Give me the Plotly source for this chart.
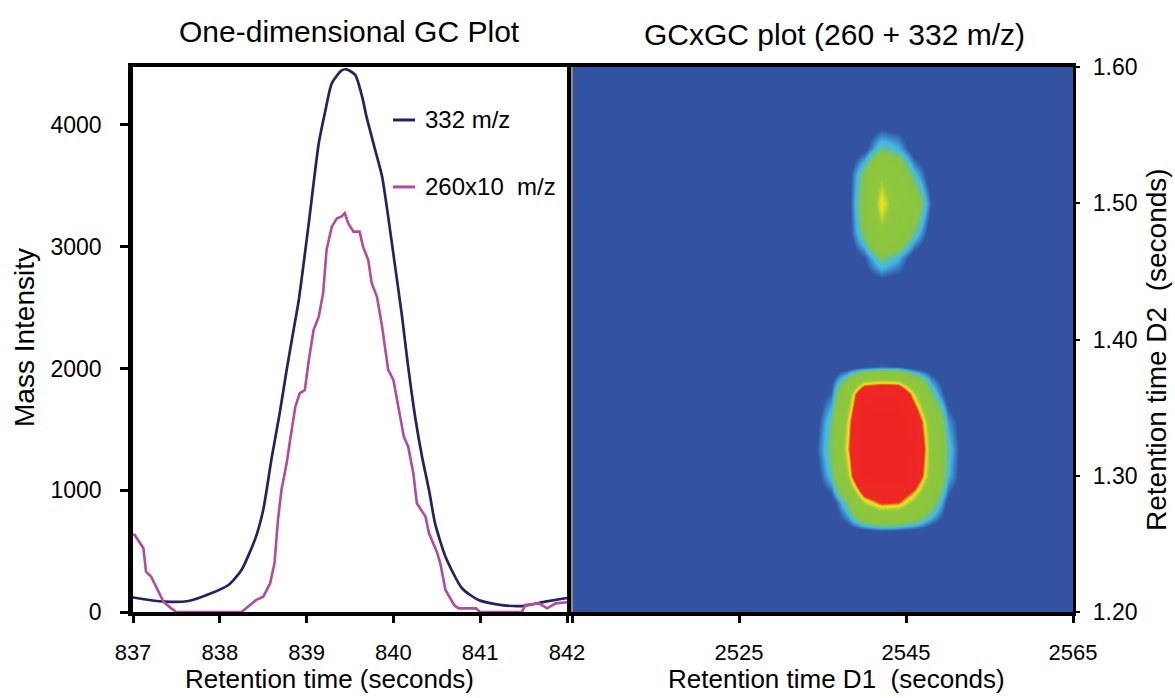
import plotly.graph_objects as go

# ---- one-dimensional GC traces (retention time in s, mass intensity) ----
mz332_time = [837.00, 837.02, 837.37, 837.64, 837.90, 838.10, 838.25, 838.41, 838.50, 838.60,
              838.69, 838.77, 838.85, 838.91, 839.02, 839.14, 839.21, 839.29, 839.40, 839.46,
              839.56, 839.64, 839.69, 839.79, 839.87, 839.94, 840.02, 840.10, 840.16, 840.25,
              840.33, 840.41, 840.48, 840.60, 840.79, 840.98, 841.25, 841.48, 841.75, 842.00]
mz332_intensity = [120, 117, 85, 90, 153, 222, 345, 605, 838, 1276,
                   1632, 1988, 2316, 2563, 3165, 3850, 4096, 4342, 4446, 4457,
                   4411, 4232, 4068, 3795, 3575, 3247, 2836, 2425, 2070, 1604,
                   1276, 1002, 728, 454, 195, 99, 57, 49, 85, 115]

mz260_time = [837.00, 837.02, 837.12, 837.15, 837.21, 837.35, 837.44, 837.50,
              838.25, 838.29, 838.42, 838.50, 838.58, 838.63, 838.67, 838.71, 838.77, 838.81,
              838.87, 838.92, 838.98, 839.02, 839.08, 839.14, 839.19, 839.23, 839.29, 839.35,
              839.40, 839.44, 839.48, 839.54, 839.61, 839.65, 839.71, 839.75, 839.81, 839.87,
              839.94, 840.00, 840.06, 840.12, 840.17, 840.23, 840.27, 840.37, 840.41, 840.50,
              840.54, 840.60, 840.70, 840.75, 840.95, 841.00, 841.48, 841.52, 841.68, 841.77,
              841.87, 842.00]
mz260x10_intensity = [640, 632, 523, 331, 290, 85, 30, 0,
                      0, 22, 99, 126, 236, 400, 756, 1002, 1221, 1413,
                      1686, 1796, 1823, 2043, 2316, 2426, 2618, 2973, 3165, 3234,
                      3247, 3275, 3192, 3124, 3124, 3000, 2891, 2700, 2590, 2343,
                      1988, 1906, 1686, 1440, 1358, 1139, 893, 783, 646, 495,
                      400, 181, 57, 30, 30, 0, 0, 57, 71, 30,
                      71, 80]

gc_ticks = [837, 838, 839, 840, 841, 842]
intensity_ticks = [0, 1000, 2000, 3000, 4000]

# ---- GCxGC response (relative, 1 = detector saturation) ----
d1_time = [2532, 2534, 2536, 2538, 2540, 2542, 2544, 2546, 2548, 2550, 2552, 2554]
d2_time = [1.24, 1.26, 1.28, 1.30, 1.32, 1.34, 1.36, 1.38, 1.40, 1.42,
           1.44, 1.46, 1.48, 1.50, 1.52, 1.54, 1.56, 1.58]
response = [
    [0, 0, 0, 0, 0, 0, 0, 0, 0, 0, 0, 0],
    [0, 0, 0, 0, 0.02, 0.04, 0.03, 0.02, 0, 0, 0, 0],
    [0, 0, 0, 0.15, 0.48, 0.62, 0.60, 0.42, 0.20, 0.02, 0, 0],
    [0, 0, 0.12, 0.45, 1.0, 1.0, 1.0, 0.80, 0.38, 0.10, 0, 0],
    [0, 0.02, 0.16, 0.55, 1.0, 1.0, 1.0, 0.90, 0.40, 0.12, 0, 0],
    [0, 0, 0.14, 0.50, 1.0, 1.0, 1.0, 0.80, 0.35, 0.08, 0, 0],
    [0, 0, 0.05, 0.35, 0.85, 0.90, 0.88, 0.50, 0.15, 0, 0, 0],
    [0, 0, 0, 0, 0.02, 0.05, 0.04, 0, 0, 0, 0, 0],
    [0, 0, 0, 0, 0, 0, 0, 0, 0, 0, 0, 0],
    [0, 0, 0, 0, 0, 0, 0, 0, 0, 0, 0, 0],
    [0, 0, 0, 0, 0, 0, 0, 0, 0, 0, 0, 0],
    [0, 0, 0, 0, 0.04, 0.16, 0.10, 0, 0, 0, 0, 0],
    [0, 0, 0, 0, 0.18, 0.44, 0.32, 0.15, 0, 0, 0, 0],
    [0, 0, 0, 0, 0.22, 0.56, 0.36, 0.25, 0.04, 0, 0, 0],
    [0, 0, 0, 0, 0.18, 0.44, 0.30, 0.12, 0, 0, 0, 0],
    [0, 0, 0, 0, 0.02, 0.14, 0.10, 0, 0, 0, 0, 0],
    [0, 0, 0, 0, 0, 0, 0, 0, 0, 0, 0, 0],
    [0, 0, 0, 0, 0, 0, 0, 0, 0, 0, 0, 0],
]
d1_ticks = [2505, 2525, 2545, 2565]
d1_ticktext = ["", "2525", "2545", "2565"]
d2_ticks = [1.20, 1.30, 1.40, 1.50, 1.60]
d2_ticktext = ["1.20", "1.30", "1.40", "1.50", "1.60"]

NAVY = "#262262"
MAGENTA = "#B44A9E"
BG_BLUE = "#3352A2"
FONT = "Liberation Sans, Arial, sans-serif"

W, H = 1175, 698
L, R, T, B = 133, 102, 67, 86
PW, PH = W - L - R, H - T - B


def fx(px):
    return (px - L) / PW


def fy(py):
    return (H - B - py) / PH


jet_like = [
    [0.00, BG_BLUE],
    [0.04, BG_BLUE],
    [0.10, "#44B8EA"],
    [0.16, "#7CC65A"],
    [0.20, "#8CC63F"],
    [0.45, "#8FC73E"],
    [0.55, "#F2E81C"],
    [0.61, "#EE2A24"],
    [1.00, "#EE2424"],
]

fig = go.Figure()

fig.add_trace(go.Heatmap(
    x=d1_time, y=d2_time, z=response,
    xaxis="x2", yaxis="y2",
    zmin=0, zmax=1, zsmooth="best",
    colorscale=jet_like, showscale=False, hoverinfo="skip",
))

fig.add_trace(go.Scatter(
    x=mz332_time, y=mz332_intensity, mode="lines",
    line=dict(color=NAVY, width=2.7, shape="spline", smoothing=0.6), name="332 m/z",
    xaxis="x", yaxis="y", showlegend=False,
))
fig.add_trace(go.Scatter(
    x=mz260_time, y=mz260x10_intensity, mode="lines",
    line=dict(color=MAGENTA, width=2.6), name="260x10  m/z",
    xaxis="x", yaxis="y", showlegend=False,
))

tickfont = dict(family=FONT, size=22, color="black")
split_left = fx(567)
split_right = fx(572)

fig.update_layout(
    width=W, height=H,
    margin=dict(l=L, r=R, t=T, b=B),
    paper_bgcolor="white", plot_bgcolor="white",
    font=dict(family=FONT, color="black"),
    xaxis=dict(
        domain=[0, split_left], range=[837, 842], anchor="y",
        tickvals=gc_ticks, ticks="outside", ticklen=7, tickwidth=2.5, tickcolor="black",
        showline=True, linewidth=4, linecolor="black", mirror=True,
        showgrid=False, zeroline=False, tickfont=tickfont, ticklabelstandoff=11,
    ),
    yaxis=dict(
        domain=[0, 1], range=[0, 4476], anchor="x",
        tickvals=intensity_ticks, ticks="outside", ticklen=8, tickwidth=3, tickcolor="black",
        showline=True, linewidth=4.5, linecolor="black", mirror=True,
        showgrid=False, zeroline=False, tickfont=dict(family=FONT, size=23, color="black"),
        ticklabelstandoff=14,
    ),
    xaxis2=dict(
        domain=[split_right, 1], range=[2505, 2565], anchor="y2",
        tickvals=d1_ticks, ticktext=d1_ticktext,
        ticks="outside", ticklen=7, tickwidth=2.5, tickcolor="black",
        showline=True, linewidth=3.5, linecolor="black", mirror=True,
        showgrid=False, zeroline=False, tickfont=tickfont, ticklabelstandoff=11,
    ),
    yaxis2=dict(
        domain=[0, 1], range=[1.2, 1.6], anchor="x2", side="right",
        tickvals=d2_ticks, ticktext=d2_ticktext,
        ticks="outside", ticklen=4, tickwidth=2, tickcolor="black",
        showline=True, linewidth=3.3, linecolor="black",
        showgrid=False, zeroline=False, tickfont=dict(family=FONT, size=23, color="black"),
        ticklabelstandoff=8,
    ),
    shapes=[
        # blue field behind the GCxGC map
        dict(type="rect", xref="x2 domain", yref="y2 domain", x0=0, x1=1, y0=0, y1=1,
             fillcolor=BG_BLUE, line=dict(width=0), layer="below"),
        # thin grey divider on the left edge of the map
        dict(type="line", xref="x2 domain", yref="y2 domain", x0=0, x1=0, y0=0, y1=1,
             line=dict(color="#8A8A8A", width=2)),
        # legend line samples
        dict(type="line", xref="x", yref="y", x0=839.995, x1=840.25, y0=4041, y1=4041,
             line=dict(color=NAVY, width=3)),
        dict(type="line", xref="x", yref="y", x0=839.995, x1=840.25, y0=3491, y1=3491,
             line=dict(color=MAGENTA, width=3)),
    ],
    annotations=[
        dict(text="One-dimensional GC Plot", xref="paper", yref="paper",
             x=fx(349), y=fy(32), xanchor="center", yanchor="middle", showarrow=False,
             font=dict(family=FONT, size=30, color="black")),
        dict(text="GCxGC plot (260 + 332 m/z)", xref="paper", yref="paper",
             x=fx(834), y=fy(34), xanchor="center", yanchor="middle", showarrow=False,
             font=dict(family=FONT, size=30, color="black")),
        dict(text="Mass Intensity", xref="paper", yref="paper", textangle=-90,
             x=fx(24), y=fy(338), xanchor="center", yanchor="middle", showarrow=False,
             font=dict(family=FONT, size=28, color="black")),
        dict(text="Retention time (seconds)", xref="paper", yref="paper",
             x=fx(329), y=0, yshift=-(B - 2), xanchor="center", yanchor="bottom",
             showarrow=False, font=dict(family=FONT, size=26, color="black")),
        dict(text="Retention time D1\u00a0 (seconds)", xref="paper", yref="paper",
             x=fx(836), y=0, yshift=-(B - 2), xanchor="center", yanchor="bottom",
             showarrow=False, font=dict(family=FONT, size=26, color="black")),
        dict(text="Retention time D2\u00a0 (seconds)", xref="paper", yref="paper", textangle=-90,
             x=fx(1156), y=fy(350), xanchor="center", yanchor="middle", showarrow=False,
             font=dict(family=FONT, size=28, color="black")),
        dict(text="332 m/z", xref="x", yref="y", x=840.34, y=4041,
             xanchor="left", yanchor="middle", showarrow=False,
             font=dict(family=FONT, size=24, color="black")),
        dict(text="260x10\u00a0 m/z", xref="x", yref="y", x=840.34, y=3491,
             xanchor="left", yanchor="middle", showarrow=False,
             font=dict(family=FONT, size=24, color="black")),
    ],
)

fig.write_html("out.html")
